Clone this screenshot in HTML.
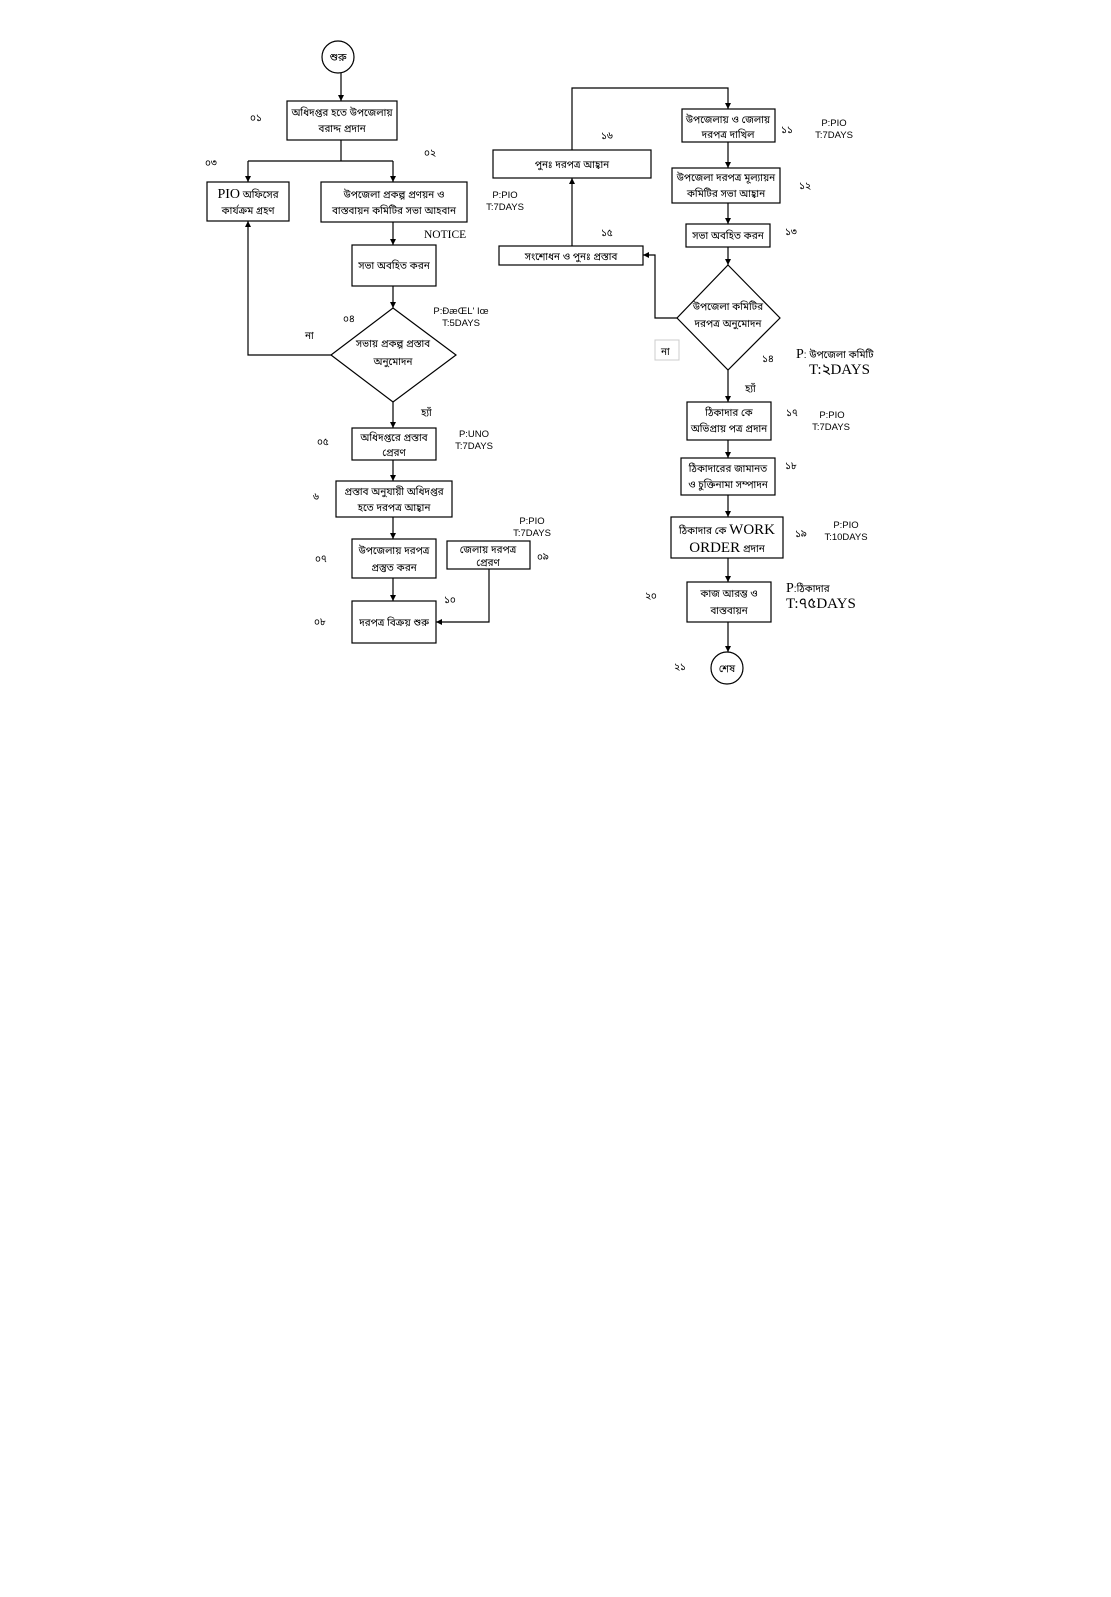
<!DOCTYPE html>
<html><head><meta charset="utf-8">
<style>
html,body{margin:0;padding:0;background:#fff;}
svg{display:block;}
text{font-family:"Liberation Sans","Noto Sans Bengali","Lohit Bengali","FreeSans","Noto Sans CJK SC",sans-serif;fill:#000;}
.b{font-size:10px;}
.n{font-size:10px;fill:#222;}
.e{font-size:9.5px;fill:#222;}
.s{font-family:"Liberation Serif","Noto Sans Bengali",serif;}
</style></head>
<body>
<svg width="1111" height="1597" viewBox="0 0 1111 1597" xmlns="http://www.w3.org/2000/svg">
<defs>
<marker id="a" viewBox="0 0 10 10" refX="10" refY="5" markerWidth="6" markerHeight="6" orient="auto-start-reverse" markerUnits="userSpaceOnUse">
<path d="M0,0 L10,5 L0,10 z" fill="#000"/>
</marker>
</defs>
<rect width="1111" height="1597" fill="#fff"/>
<g stroke="#000" stroke-width="1.2" fill="none">
<!-- left column -->
<circle cx="338" cy="57" r="16"/>
<line x1="341" y1="73" x2="341" y2="101" marker-end="url(#a)"/>
<rect x="287" y="101" width="110" height="39"/>
<polyline points="341,140 341,161"/>
<line x1="248" y1="161" x2="393" y2="161"/>
<line x1="248" y1="161" x2="248" y2="182" marker-end="url(#a)"/>
<line x1="393" y1="161" x2="393" y2="182" marker-end="url(#a)"/>
<rect x="207" y="182" width="82" height="39"/>
<rect x="321" y="182" width="146" height="40"/>
<line x1="393" y1="222" x2="393" y2="245" marker-end="url(#a)"/>
<rect x="352" y="245" width="84" height="41"/>
<line x1="393" y1="286" x2="393" y2="308" marker-end="url(#a)"/>
<polygon points="393,308 456,355 393,402 331,355"/>
<polyline points="331,355 248,355 248,221" marker-end="url(#a)"/>
<line x1="393" y1="402" x2="393" y2="428" marker-end="url(#a)"/>
<rect x="352" y="428" width="84" height="32"/>
<line x1="393" y1="460" x2="393" y2="481" marker-end="url(#a)"/>
<rect x="336" y="481" width="116" height="36"/>
<line x1="393" y1="517" x2="393" y2="539" marker-end="url(#a)"/>
<rect x="352" y="539" width="84" height="39"/>
<line x1="393" y1="578" x2="393" y2="601" marker-end="url(#a)"/>
<rect x="352" y="601" width="84" height="42"/>
<rect x="447" y="541" width="83" height="28"/>
<polyline points="489,569 489,622 436,622" marker-end="url(#a)"/>
<!-- right column -->
<polyline points="572,150 572,88 728,88 728,109" marker-end="url(#a)"/>
<rect x="682" y="109" width="93" height="33"/>
<line x1="728" y1="142" x2="728" y2="168" marker-end="url(#a)"/>
<rect x="672" y="168" width="108" height="35"/>
<line x1="728" y1="203" x2="728" y2="224" marker-end="url(#a)"/>
<rect x="686" y="224" width="84" height="23"/>
<line x1="728" y1="247" x2="728" y2="265" marker-end="url(#a)"/>
<polygon points="728,265 780,318 728,370 677,318"/>
<polyline points="677,318 655,318 655,255 643,255" marker-end="url(#a)"/>
<rect x="499" y="246" width="144" height="19"/>
<line x1="572" y1="246" x2="572" y2="178" marker-end="url(#a)"/>
<rect x="493" y="150" width="158" height="28"/>
<line x1="728" y1="370" x2="728" y2="402" marker-end="url(#a)"/>
<rect x="687" y="402" width="84" height="38"/>
<line x1="728" y1="440" x2="728" y2="458" marker-end="url(#a)"/>
<rect x="681" y="458" width="94" height="37"/>
<line x1="728" y1="495" x2="728" y2="517" marker-end="url(#a)"/>
<rect x="671" y="517" width="112" height="41"/>
<line x1="728" y1="558" x2="728" y2="582" marker-end="url(#a)"/>
<rect x="687" y="582" width="84" height="40"/>
<line x1="728" y1="622" x2="728" y2="652" marker-end="url(#a)"/>
<circle cx="727" cy="668" r="16"/>
</g>
<rect x="655" y="340" width="24" height="20" fill="none" stroke="#ccc" stroke-width="1"/>

<!-- box texts -->
<g class="b" text-anchor="middle">
<text x="338" y="61" font-size="11">শুরু</text>
<text x="342" y="116">অধিদপ্তর হতে উপজেলায়</text>
<text x="342" y="132">বরাদ্দ  প্রদান</text>
<text x="248" y="198"><tspan class="s" font-size="14">PIO</tspan> অফিসের</text>
<text x="248" y="214">কার্যক্রম গ্রহণ</text>
<text x="394" y="198">উপজেলা প্রকল্প প্রণয়ন ও</text>
<text x="394" y="214">বাস্তবায়ন কমিটির সভা আহবান</text>
<text x="394" y="269">সভা অবহিত করন</text>
<text x="393" y="347">সভায় প্রকল্প প্রস্তাব</text>
<text x="393" y="365">অনুমোদন</text>
<text x="394" y="441">অধিদপ্তরে প্রস্তাব</text>
<text x="394" y="456">প্রেরণ</text>
<text x="394" y="495">প্রস্তাব অনুযায়ী অধিদপ্তর</text>
<text x="394" y="511">হতে দরপত্র আহ্বান</text>
<text x="394" y="554">উপজেলায় দরপত্র</text>
<text x="394" y="571">প্রস্তুত করন</text>
<text x="394" y="626">দরপত্র বিক্রয় শুরু</text>
<text x="488" y="553">জেলায় দরপত্র</text>
<text x="488" y="566">প্রেরণ</text>

<text x="728" y="123">উপজেলায় ও জেলায়</text>
<text x="728" y="138">দরপত্র দাখিল</text>
<text x="726" y="181">উপজেলা দরপত্র মূল্যায়ন</text>
<text x="726" y="197">কমিটির  সভা আহ্বান</text>
<text x="728" y="239">সভা অবহিত করন</text>
<text x="728" y="310">উপজেলা কমিটির</text>
<text x="728" y="327">দরপত্র অনুমোদন</text>
<text x="571" y="260">সংশোধন ও পুনঃ প্রস্তাব</text>
<text x="572" y="168">পুনঃ দরপত্র আহ্বান</text>
<text x="729" y="416">ঠিকাদার কে</text>
<text x="729" y="432">অভিপ্রায় পত্র প্রদান</text>
<text x="728" y="472">ঠিকাদারের জামানত</text>
<text x="728" y="488">ও চুক্তিনামা সম্পাদন</text>
<text x="727" y="534">ঠিকাদার কে <tspan class="s" font-size="15">WORK</tspan></text>
<text x="727" y="552"><tspan class="s" font-size="15">ORDER</tspan> প্রদান</text>
<text x="729" y="597">কাজ আরম্ভ ও</text>
<text x="729" y="614">বাস্তবায়ন</text>
<text x="727" y="672">শেষ</text>
</g>

<!-- numbers -->
<g class="n">
<text x="250" y="121">০১</text>
<text x="424" y="156">০২</text>
<text x="205" y="166">০৩</text>
<text x="343" y="322">০৪</text>
<text x="317" y="445">০৫</text>
<text x="313" y="500">৬</text>
<text x="315" y="562">০৭</text>
<text x="314" y="625">০৮</text>
<text x="537" y="560">০৯</text>
<text x="444" y="603">১০</text>
<text x="781" y="133">১১</text>
<text x="799" y="189">১২</text>
<text x="785" y="235">১৩</text>
<text x="762" y="362">১৪</text>
<text x="601" y="236">১৫</text>
<text x="601" y="139">১৬</text>
<text x="786" y="416">১৭</text>
<text x="785" y="469">১৮</text>
<text x="795" y="537">১৯</text>
<text x="645" y="599">২০</text>
<text x="674" y="670">২১</text>
<text x="305" y="339">না</text>
<text x="421" y="416">হ্যাঁ</text>
<text x="745" y="392">হ্যাঁ</text>
<text x="661" y="355">না</text>
</g>

<!-- annotations -->
<g class="e" text-anchor="middle">
<text x="505" y="198">P:PIO</text>
<text x="505" y="210">T:7DAYS</text>
<text x="461" y="314">P:ÐæŒL' Iœ</text>
<text x="461" y="326">T:5DAYS</text>
<text x="474" y="437">P:UNO</text>
<text x="474" y="449">T:7DAYS</text>
<text x="532" y="524">P:PIO</text>
<text x="532" y="536">T:7DAYS</text>
<text x="834" y="126">P:PIO</text>
<text x="834" y="138">T:7DAYS</text>
<text x="832" y="418">P:PIO</text>
<text x="831" y="430">T:7DAYS</text>
<text x="846" y="528">P:PIO</text>
<text x="846" y="540">T:10DAYS</text>
</g>
<text x="424" y="238" class="s" font-size="11.5">NOTICE</text>
<text x="796" y="358" font-size="10"><tspan class="s" font-size="14">P</tspan>: উপজেলা কমিটি</text>
<text x="809" y="374" class="s" font-size="15">T:২DAYS</text>
<text x="786" y="592" font-size="10"><tspan class="s" font-size="14">P</tspan>:ঠিকাদার</text>
<text x="786" y="608" class="s" font-size="15">T:৭৫DAYS</text>
</svg>
</body></html>
